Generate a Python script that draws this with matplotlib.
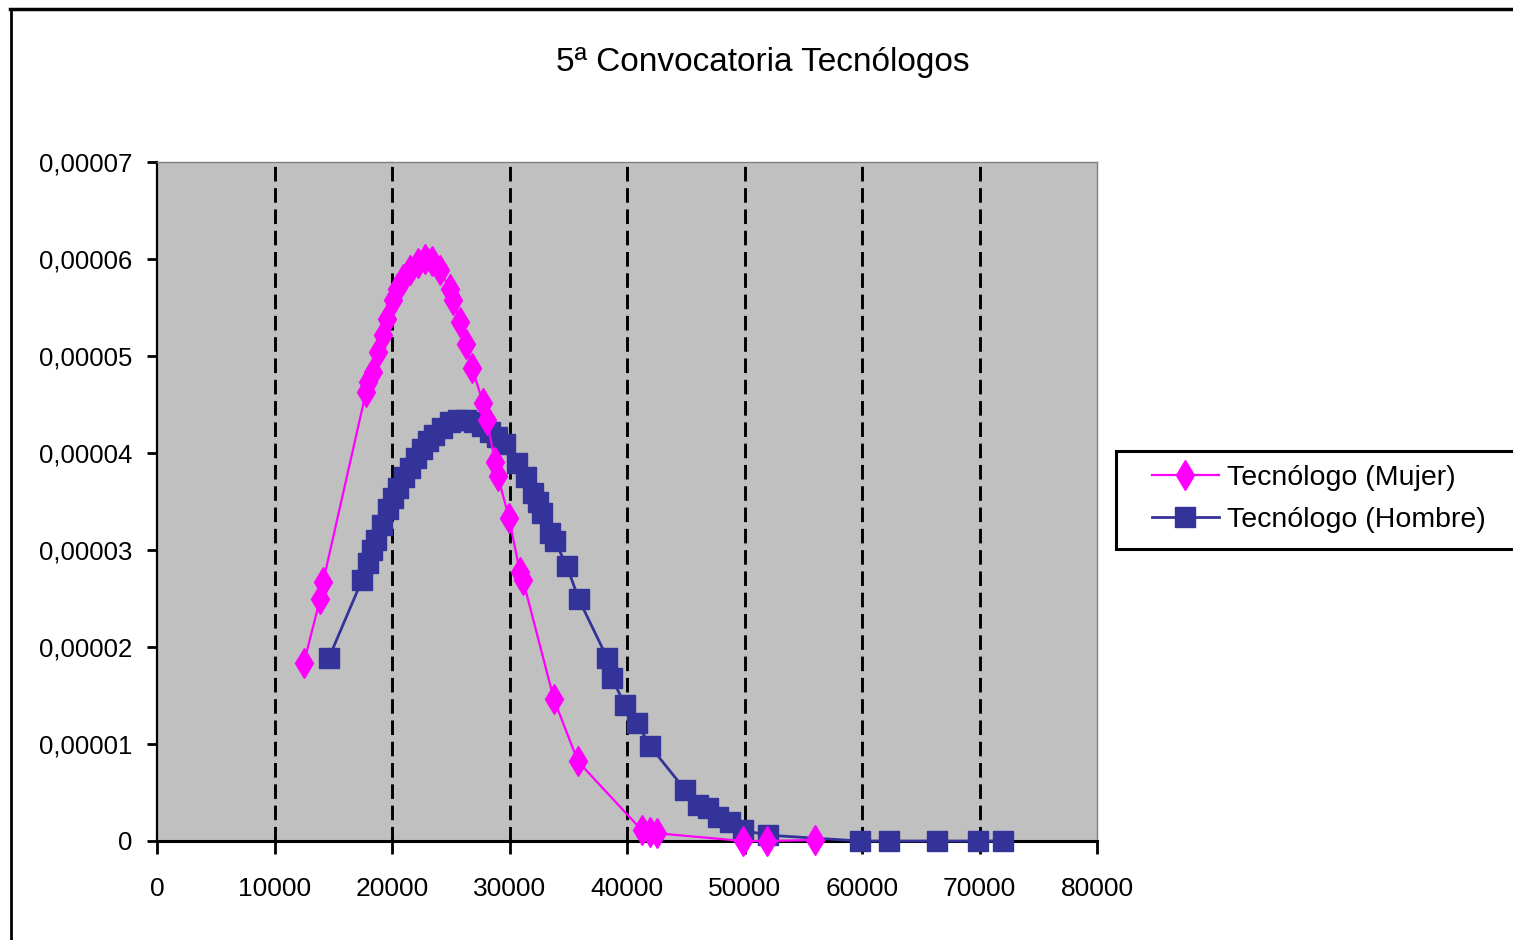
import matplotlib.pyplot as plt
from matplotlib.lines import Line2D
from matplotlib.patches import Rectangle

# data
mujer_x = [12510, 13870, 14130, 17790, 17960, 18380, 18810, 19230, 19570, 20080,
           20420, 20930, 21530, 22210, 22810, 23400, 24080, 24930, 25190, 25790,
           26300, 26810, 27740, 28080, 28760, 29010, 29960, 30890, 31150, 33780,
           35830, 41270, 41950, 42550, 49870, 51910, 56000]
mujer_y = [1.84, 2.49, 2.67, 4.63, 4.73, 4.83, 5.04, 5.22, 5.38, 5.58,
           5.69, 5.79, 5.89, 5.96, 6.00, 5.98, 5.89, 5.69, 5.58, 5.35,
           5.12, 4.88, 4.52, 4.34, 3.91, 3.76, 3.33, 2.77, 2.69, 1.46,
           0.82, 0.11, 0.09, 0.08, 0.0, 0.0, 0.01]

hombre_x = [14640, 17450, 17960, 18300, 18640, 19150, 19660, 20080, 20510, 21020,
            21530, 22040, 22550, 23060, 23570, 24250, 24930, 25620, 26300, 26980,
            27660, 28340, 28930, 29610, 30640, 31400, 32000, 32420, 32760, 33440,
            33870, 34890, 35910, 38300, 38720, 39830, 40850, 41950, 44930, 46040,
            46890, 47740, 48760, 49870, 51990, 59830, 62290, 66380, 69870, 71990]
hombre_y = [1.89, 2.69, 2.87, 3.00, 3.10, 3.26, 3.42, 3.54, 3.64, 3.75,
            3.85, 3.95, 4.04, 4.12, 4.19, 4.26, 4.32, 4.34, 4.34, 4.32,
            4.28, 4.22, 4.16, 4.09, 3.90, 3.75, 3.59, 3.49, 3.38, 3.18,
            3.09, 2.83, 2.49, 1.89, 1.68, 1.40, 1.22, 0.98, 0.53, 0.37,
            0.34, 0.25, 0.20, 0.11, 0.06, 0.0, 0.0, 0.0, 0.0, 0.0]

mujer_y = [v * 1e-5 for v in mujer_y]
hombre_y = [v * 1e-5 for v in hombre_y]

x_ticks = [0, 10000, 20000, 30000, 40000, 50000, 60000, 70000, 80000]
y_ticks = [0, 1e-5, 2e-5, 3e-5, 4e-5, 5e-5, 6e-5, 7e-5]
y_labels = ['0', '0,00001', '0,00002', '0,00003', '0,00004', '0,00005', '0,00006', '0,00007']

plt.rcParams['font.family'] = ['Liberation Sans', 'DejaVu Sans']

W, H = 1513, 940
fig = plt.figure(figsize=(W / 100, H / 100), dpi=100)
ax = fig.add_axes([157 / W, 1 - 841 / H, (1097 - 157) / W, (841 - 162) / H])
ax.set_facecolor('#C0C0C0')

for gx in x_ticks[1:-1]:
    ax.axvline(gx, color='black', lw=2.1, dashes=(5, 2.3), zorder=1)

ax.plot(hombre_x, hombre_y, color='#333399', lw=2, marker='s', markersize=15,
        label='Tecnólogo (Hombre)', zorder=3, clip_on=False)
ax.plot(mujer_x, mujer_y, color='#FF00FF', lw=1.6, marker='d', markersize=15,
        label='Tecnólogo (Mujer)', zorder=4, clip_on=False)

ax.set_xlim(0, 80000)
ax.set_ylim(0, 7e-5)
ax.set_xticks(x_ticks)
ax.set_xticklabels([str(v) for v in x_ticks])
ax.set_yticks(y_ticks)
ax.set_yticklabels(y_labels)
ax.tick_params(axis='x', length=9, width=2, pad=17, labelsize=19, direction='out')
ax.tick_params(axis='y', length=7, width=2, pad=11, labelsize=18.5, direction='out')

ax.spines['left'].set_linewidth(1.6)
ax.spines['bottom'].set_linewidth(2.2)
ax.spines['top'].set_color('#808080')
ax.spines['right'].set_color('#808080')
ax.spines['top'].set_linewidth(1)
ax.spines['right'].set_linewidth(1)

# legend frame runs past the right edge, like the original
fig.add_artist(Rectangle((1116 / W, 1 - 549 / H), 420 / W, 98 / H, transform=fig.transFigure,
                         facecolor='white', edgecolor='black', lw=2.2, clip_on=False, zorder=5))
handles, labels = ax.get_legend_handles_labels()
leg = fig.legend(handles[::-1], labels[::-1], loc='center left',
                 bbox_to_anchor=(1152 / W, 1 - 499 / H), frameon=False,
                 fontsize=20.5, handlelength=2.35, borderaxespad=0, borderpad=0,
                 labelspacing=0.55, handletextpad=0.3)
leg.set_zorder(6)

fig.text(763 / W, 1 - 63 / H, '5ª Convocatoria Tecnólogos', ha='center', va='center',
         fontsize=24)

# outer chart border (top and left)
fig.add_artist(Line2D([10 / W, 1], [1 - 9 / H, 1 - 9 / H], color='black', lw=2.5))
fig.add_artist(Line2D([11 / W, 11 / W], [0, 1 - 9 / H], color='black', lw=2))

fig.savefig('out.png', dpi=100)
